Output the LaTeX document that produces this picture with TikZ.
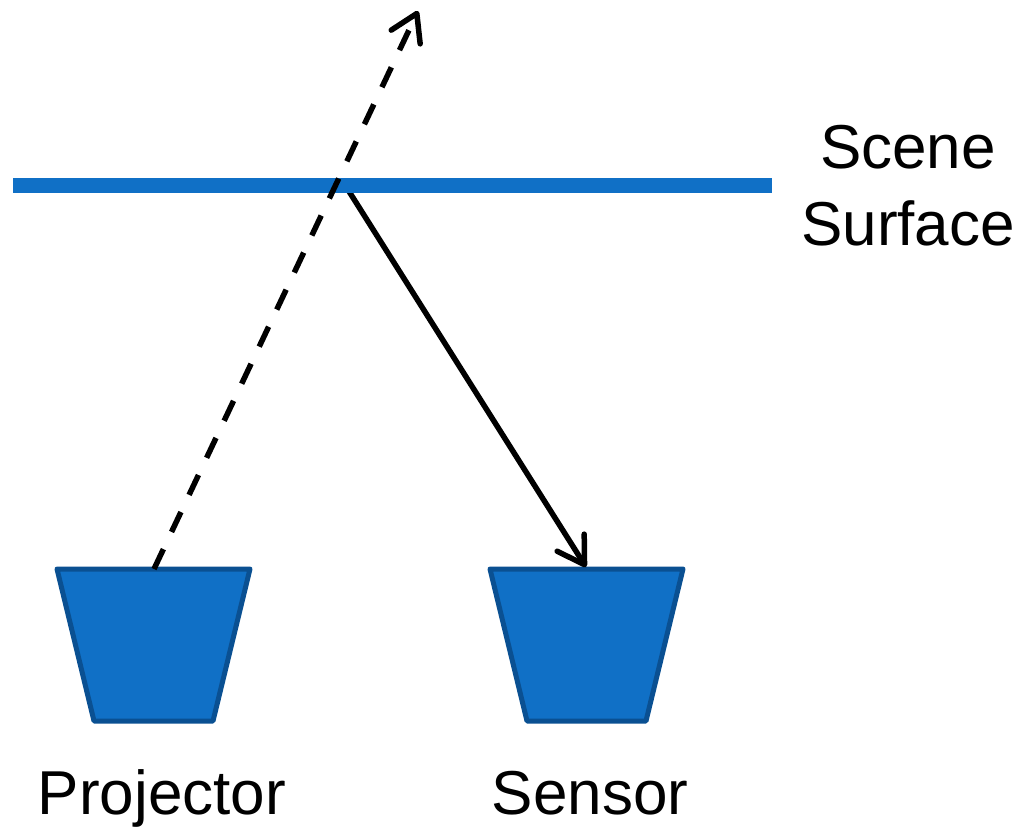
\documentclass[tikz,border=0pt]{standalone}
\usepackage{fontspec}
\setmainfont{Liberation Sans}
\usetikzlibrary{arrows.meta}
\definecolor{surfblue}{RGB}{16,112,198}
\definecolor{edgeblue}{RGB}{10,80,146}
\newcommand\device[3]{% top-left x, top y, name
  \coordinate (#3) at (#1,#2); % top left corner
  \filldraw[surfblue, draw=edgeblue, line width=5pt, line join=round]
    (#3) -- ++(193,0) -- ++(-37,152) -- ++(-119,0) -- cycle;
}

\begin{document}
\begin{tikzpicture}[x=1pt, y=-1pt,
    ray/.style={line width=5.5pt, -{Straight Barb[length=26pt, width=32pt, line cap=round, line join=round]}},
    lbl/.style={font=\fontsize{62}{77}\selectfont, inner sep=0pt}]
  \useasboundingbox (0,0) rectangle (1020,828);
  \device{57}{569}{proj}
  \device{490}{569}{sens}
  \coordinate (surfL) at (13,185);
  \coordinate (surfR) at (772,185);
  \coordinate (hit) at (345,185);   % reflection point
  \coordinate (beyond) at (418,11);
  \coordinate (projtop) at (154,569);
  \coordinate (senstop) at (586,567);
  \draw[ray] (hit) -- (senstop);
  \draw[surfblue, line width=15pt] (surfL) -- (surfR);
  \draw[ray, dash pattern=on 22pt off 19pt] (projtop) -- (beyond);
  \node[lbl, align=center] (surflabel) at (908,186) {Scene\\Surface};
  \node[lbl, anchor=base] (projlabel) at (162,814) {Projector};
  \node[lbl, anchor=base] (senslabel) at (590,814) {Sensor};
\end{tikzpicture}
\end{document}
